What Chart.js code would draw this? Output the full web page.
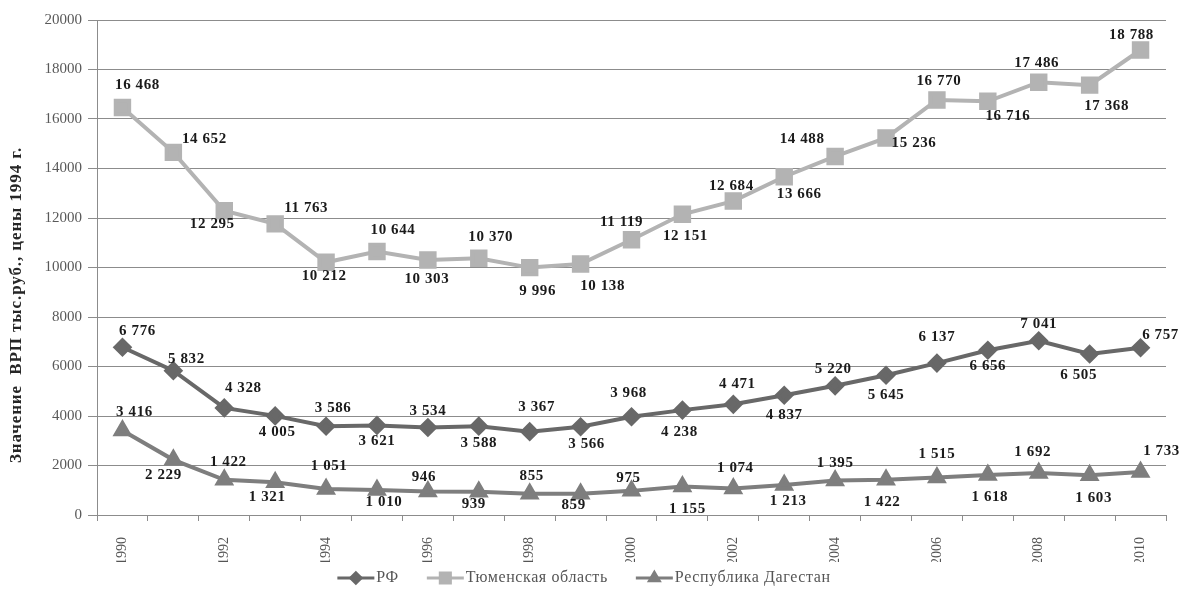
<!DOCTYPE html>
<html>
<head>
<meta charset="utf-8">
<script src="https://cdn.jsdelivr.net/npm/chart.js@4.4.1/dist/chart.umd.min.js"></script>
<style>
  html, body { margin: 0; padding: 0; background: #ffffff; }
  #wrap { width: 1180px; height: 610px; }
</style>
</head>
<body>
<div id="wrap"><canvas id="c" width="1180" height="610"></canvas></div>
<script>
const years = ['1990','1991','1992','1993','1994','1995','1996','1997','1998','1999','2000',
               '2001','2002','2003','2004','2005','2006','2007','2008','2009','2010'];
const rfValues = [6776, 5832, 4328, 4005, 3586, 3621, 3534, 3588, 3367, 3566, 3968,
                  4238, 4471, 4837, 5220, 5645, 6137, 6656, 7041, 6505, 6757];
const tyumenValues = [16468, 14652, 12295, 11763, 10212, 10644, 10303, 10370, 9996, 10138, 11119,
                      12151, 12684, 13666, 14488, 15236, 16770, 16716, 17486, 17368, 18788];
const dagestanValues = [3416, 2229, 1422, 1321, 1051, 1010, 946, 939, 855, 859, 975,
                        1155, 1074, 1213, 1395, 1422, 1515, 1618, 1692, 1603, 1733];
const seriesNames = ['РФ', 'Тюменская область', 'Республика Дагестан'];
const yTicks = [0, 2000, 4000, 6000, 8000, 10000, 12000, 14000, 16000, 18000, 20000];
const yTitle = 'Значение  ВРП тыс.руб., цены 1994 г.';

// label placement (style only): offset of label centre from its point, in px
const labelOffsets = [
  [[15,-16],[13,-12],[19,-20],[2,16],[7,-18],[0,16],[0,-16],[0,17],[7,-25],[6,17],[-3,-24],
   [-3,22],[4,-20],[0,20],[-2,-17],[0,20],[0,-26],[0,16],[0,-17],[-11,21],[20,-13]],
  [[15,-22],[31,-13],[-12,13],[31,-16],[-2,14],[16,-21],[-1,19],[12,-21],[8,24],[22,22],[-10,-18],
   [3,22],[-2,-15],[15,17],[-33,-17],[28,5],[2,-19],[20,15],[-2,-19],[17,21],[-9,-15]],
  [[12,-18],[-10,15],[4,-18],[-8,15],[3,-23],[7,12],[-4,-14],[-5,12],[2,-18],[-7,11],[-3,-13],
   [5,23],[2,-20],[4,16],[0,-17],[-4,22],[0,-23],[2,22],[-6,-21],[4,23],[21,-21]]
];

function fmt(v) {
  return String(v).replace(/\B(?=(\d{3})+(?!\d))/g, ' ');
}

const serif = '"Liberation Serif", "Times New Roman", serif';

const labelPlugin = {
  id: 'pointLabels',
  afterDatasetsDraw(chart) {
    const ctx = chart.ctx;
    ctx.save();
    ctx.font = 'bold 15px ' + serif;
    ctx.letterSpacing = '0.6px';
    ctx.fillStyle = '#1a1a1a';
    ctx.textAlign = 'center';
    ctx.textBaseline = 'middle';
    chart.data.datasets.forEach((ds, di) => {
      const meta = chart.getDatasetMeta(di);
      meta.data.forEach((pt, i) => {
        const off = labelOffsets[di][i];
        ctx.fillText(fmt(ds.data[i]), pt.x + off[0], pt.y + off[1]);
      });
    });
    ctx.restore();
  }
};

const extrasPlugin = {
  id: 'extras',
  afterDraw(chart) {
    const ctx = chart.ctx;
    ctx.save();
    // y-axis title
    ctx.translate(17, 305);
    ctx.rotate(-Math.PI / 2);
    ctx.font = 'bold 17px ' + serif;
    ctx.letterSpacing = '0.9px';
    ctx.fillStyle = '#262626';
    ctx.textAlign = 'center';
    ctx.textBaseline = 'middle';
    ctx.fillText(yTitle, 0, 0);
    ctx.restore();

    // legend
    ctx.save();
    ctx.font = '16px ' + serif;
    ctx.letterSpacing = '0.6px';
    const lineLen = 37, gapText = 2, gapItem = 28;
    const widths = chart.data.datasets.map(ds => ctx.measureText(ds.label).width);
    let total = 0;
    widths.forEach((w, i) => { total += lineLen + gapText + w + (i < widths.length - 1 ? gapItem : 0); });
    let x = 584 - total / 2;
    const y = 578;
    chart.data.datasets.forEach((ds, i) => {
      ctx.strokeStyle = ds.borderColor;
      ctx.lineWidth = 3;
      ctx.beginPath();
      ctx.moveTo(x, y);
      ctx.lineTo(x + lineLen, y);
      ctx.stroke();
      ctx.fillStyle = ds.borderColor;
      Chart.helpers.drawPoint(ctx, {
        pointStyle: ds.pointStyle,
        radius: ds.pointRadius * 0.75,
        borderWidth: 1,
        rotation: 0
      }, x + lineLen / 2, y);
      ctx.fillStyle = '#555555';
      ctx.textAlign = 'left';
      ctx.textBaseline = 'middle';
      ctx.fillText(ds.label, x + lineLen + gapText, y);
      x += lineLen + gapText + widths[i] + gapItem;
    });
    ctx.restore();
  }
};

const gridColor = '#8c8c8c';

new Chart(document.getElementById('c'), {
  type: 'line',
  data: {
    labels: years,
    datasets: [
      {
        label: seriesNames[0], data: rfValues,
        borderColor: '#686868', backgroundColor: '#686868',
        pointBackgroundColor: '#686868', pointBorderColor: '#686868',
        borderWidth: 4, pointStyle: 'rectRot', pointRadius: 7, tension: 0
      },
      {
        label: seriesNames[1], data: tyumenValues,
        borderColor: '#b3b3b3', backgroundColor: '#b3b3b3',
        pointBackgroundColor: '#b3b3b3', pointBorderColor: '#b3b3b3',
        borderWidth: 4, pointStyle: 'rect', pointRadius: 9.5, tension: 0
      },
      {
        label: seriesNames[2], data: dagestanValues,
        borderColor: '#7e7e7e', backgroundColor: '#7e7e7e',
        pointBackgroundColor: '#7e7e7e', pointBorderColor: '#7e7e7e',
        borderWidth: 4, pointStyle: 'triangle', pointRadius: 7.5, tension: 0
      }
    ]
  },
  options: {
    responsive: false,
    animation: false,
    events: [],
    layout: { padding: { top: 20, right: 14, bottom: 48, left: 0 } },
    plugins: {
      legend: { display: false },
      tooltip: { enabled: false },
      title: { display: false }
    },
    scales: {
      x: {
        offset: true,
        grid: {
          offset: true, drawOnChartArea: false, drawTicks: true,
          tickLength: 6, color: gridColor
        },
        border: { color: gridColor, width: 1 },
        ticks: {
          autoSkip: false, maxRotation: 90, minRotation: 90, padding: 16,
          color: '#555555', font: { family: serif, size: 14 },
          callback: function (v, i) { return i % 2 === 0 ? years[i] : ''; }
        },
        afterFit: function (s) { s.height = 47; }
      },
      y: {
        min: 0, max: 20000,
        afterBuildTicks: function (s) { s.ticks = yTicks.map(v => ({ value: v })); },
        grid: { color: gridColor, tickLength: 9, lineWidth: 1 },
        border: { color: gridColor, width: 1 },
        ticks: {
          padding: 6, color: '#595959', font: { family: serif, size: 15 },
          callback: function (v) { return String(v); }
        },
        afterFit: function (s) { s.width = 97; }
      }
    }
  },
  plugins: [labelPlugin, extrasPlugin]
});
</script>
</body>
</html>
